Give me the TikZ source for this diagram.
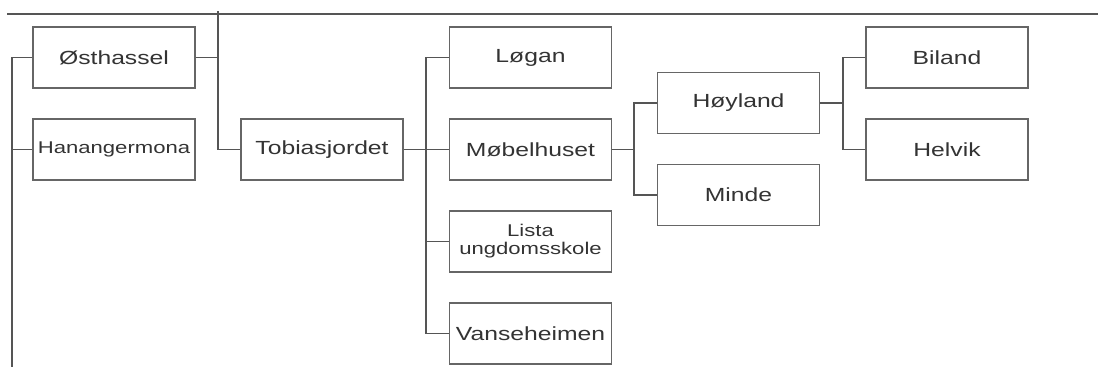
\documentclass[tikz,border=0pt]{standalone}
\usepackage{fontspec}
\newfontfamily\mainf[FakeStretch=1.3]{Liberation Sans}
\definecolor{linec}{HTML}{555555}
\definecolor{boxc}{HTML}{666666}
\definecolor{txtc}{HTML}{333333}
\begin{document}
\begin{tikzpicture}[x=1pt,y=-1pt,
  box/.style={draw=boxc, line width=1.4pt, minimum width=162pt, minimum height=61pt,
    inner sep=0pt, align=center, text=txtc, font=\mainf\fontsize{19}{22}\selectfont},
  smallbox/.style={box, font=\mainf\fontsize{17}{18}\selectfont},
  conn/.style={draw=linec, line width=1.3pt}]
\useasboundingbox (0,0) rectangle (1098,367);
\node[box] (ost) at (114,57.5) {Østhassel};
\node[smallbox] (han) at (114,149.5) {Hanangermona};
\node[box] (tob) at (322,149.5) {Tobiasjordet};
\node[box] (log) at (530.5,57.5) {Løgan};
\node[box] (mob) at (530.5,149.5) {Møbelhuset};
\node[smallbox] (lis) at (530.5,241.5) {Lista\\ungdomsskole};
\node[box] (van) at (530.5,333.5) {Vanseheimen};
\node[box] (hoy) at (738.5,103) {Høyland};
\node[box] (min) at (738.5,195) {Minde};
\node[box] (bil) at (947,57.5) {Biland};
\node[box] (hel) at (947,149.5) {Helvik};
\coordinate (tl) at (7,14);
\coordinate (tr) at (1098,14);
\coordinate (lt) at (12,367);
\coordinate (tv) at (218,11);
\coordinate (b1) at (426,0);
\coordinate (b2) at (634,0);
\coordinate (b3) at (843,0);
\draw[conn] (tl) -- (tr);
\draw[conn] (ost.west) -| (lt);
\draw[conn] (han.west) -- (han.west -| lt);
\draw[conn] (tv) |- (tob.west);
\draw[conn] (ost.east) -- (ost.east -| tv);
\draw[conn] (tob.east) -- (tob.east -| b1);
\draw[conn] (log.west) -- (log.west -| b1) |- (van.west);
\draw[conn] (mob.west) -- (mob.west -| b1);
\draw[conn] (lis.west) -- (lis.west -| b1);
\draw[conn] (mob.east) -- (mob.east -| b2);
\draw[conn] (hoy.west) -- (hoy.west -| b2) |- (min.west);
\draw[conn] (hoy.east) -- (hoy.east -| b3);
\draw[conn] (bil.west) -- (bil.west -| b3) |- (hel.west);
\end{tikzpicture}
\end{document}
